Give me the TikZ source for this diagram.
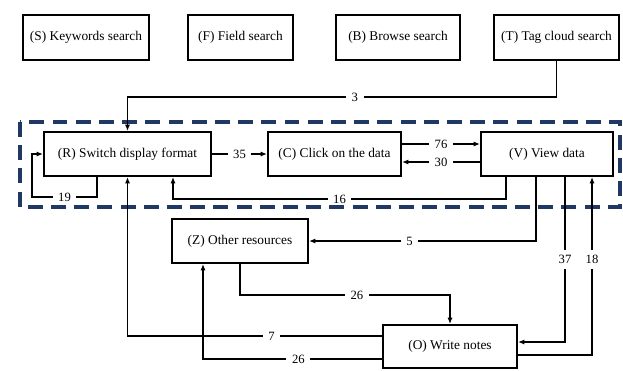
\documentclass[tikz,border=0pt]{standalone}
\usepackage{fontspec}
\setmainfont{Liberation Serif}
\usepackage{tikz}
\usetikzlibrary{arrows.meta}
\definecolor{framenavy}{HTML}{203864}

\begin{document}
\begin{tikzpicture}[x=0.025cm, y=-0.025cm,
    box/.style={draw, rectangle, line width=1.4pt, inner sep=0pt,
        minimum height=1.1cm, font=\fontsize{9.5}{11}\selectfont},
    arr/.style={line width=0.95pt, -{Latex[length=4.5pt,width=3.6pt]}},
    lbl/.style={fill=white, inner xsep=4pt, inner ysep=1pt, font=\fontsize{9}{10}\selectfont}]
    \useasboundingbox (0,0) rectangle (623,370);

    \node (s) at (86,37.5) [box, minimum width=3.15cm, minimum height=1.125cm] {(S) Keywords search};
    \node (f) at (240.5,37.5) [box, minimum width=2.625cm, minimum height=1.125cm] {(F) Field search};
    \node (b) at (398,37.5) [box, minimum width=3.1cm, minimum height=1.125cm] {(B) Browse search};
    \node (t) at (556.5,37.5) [box, minimum width=3.125cm, minimum height=1.125cm] {(T) Tag cloud search};

    \draw[framenavy, line width=2.3pt, dash pattern=on 10.6pt off 5.9pt] (20,122) rectangle (620,207);

    \node (r) at (127.5,154) [box, minimum width=4.175cm] {(R) Switch display format};
    \node (c) at (334.5,154) [box, minimum width=3.325cm] {(C) Click on the data};
    \node (v) at (547,154) [box, minimum width=3.3cm] {(V) View data};
    \node (z) at (240,241) [box, minimum width=3.4cm] {(Z) Other resources};
    \node (o) at (450,346.5) [box, minimum width=3.35cm, minimum height=1.075cm] {(O) Write notes};

    \coordinate (k3) at (127.5,97);
    \coordinate (k19a) at (97,197);
    \coordinate (k19b) at (32,197);
    \coordinate (k16a) at (506,199);
    \coordinate (k16b) at (173,199);
    \coordinate (k5) at (536,241);
    \coordinate (k37) at (565,342);
    \coordinate (k18) at (592,355);
    \coordinate (k26a) at (240,295);
    \coordinate (k26b) at (450,295);
    \coordinate (k7) at (127.5,336);
    \coordinate (k26c) at (203,359);

    \draw[arr] (t.south) |- node[lbl, pos=0.735] {3} (k3) -- (r.north);
    \draw[arr] (k19a |- r.south) -- (k19a) -- node[lbl] {19} (k19b) |- (r.west);
    \draw[arr] (r) -- node[lbl] {35} (c);
    \draw[arr] ([yshift=0.25cm]c.east) -- node[lbl] {76} ([yshift=0.25cm]v.west);
    \draw[arr] ([yshift=-0.2cm]v.west) -- node[lbl] {30} ([yshift=-0.2cm]c.east);
    \draw[arr] (k16a |- v.south) -- (k16a) -- node[lbl] {16} (k16b) -- (k16b |- r.south);
    \draw[arr] (k5 |- v.south) -- (k5) -- node[lbl, pos=0.557] {5} (z.east);
    \draw[arr] (k37 |- v.south) -- node[lbl, inner xsep=1pt, inner ysep=4pt] {37} (k37) -- (k37 -| o.east);
    \draw[arr] (k18 -| o.east) -- (k18) -- node[lbl, pos=0.536, inner xsep=1pt, inner ysep=4pt] {18} (k18 |- v.south);
    \draw[arr] (z.south) -- (k26a) -- node[lbl, pos=0.557] {26} (k26b) -- (o.north);
    \draw[arr] (k7 -| o.west) -- node[lbl, pos=0.434] {7} (k7) -- (r.south); % crosses the dashed frame
    \draw[arr] (k26c -| o.west) -- node[lbl, pos=0.467] {26} (k26c) -- (k26c |- z.south);
\end{tikzpicture}
\end{document}
